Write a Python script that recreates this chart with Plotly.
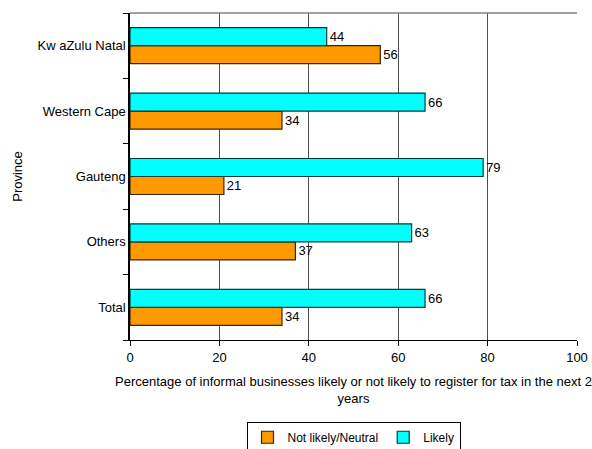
import plotly.graph_objects as go

# Provinces listed bottom-to-top (categorical axis draws the first at the bottom)
provinces = ["Total", "Others", "Gauteng", "Western Cape", "Kw aZulu Natal"]
not_likely = [34, 37, 21, 34, 56]
likely = [66, 63, 79, 66, 44]
x_ticks = [0, 20, 40, 60, 80, 100]

FONT = "Liberation Sans, Arial, sans-serif"

fig = go.Figure()
fig.add_trace(go.Bar(
    y=provinces, x=not_likely, orientation="h", name="Not likely/Neutral",
    marker=dict(color="#FF9900", line=dict(color="#3a2600", width=1.2)),
    text=[str(v) for v in not_likely], textposition="outside",
    textfont=dict(size=13, color="#000000"), cliponaxis=False,
))
fig.add_trace(go.Bar(
    y=provinces, x=likely, orientation="h", name="Likely",
    marker=dict(color="#00FFFF", line=dict(color="#003a3a", width=1.2)),
    text=[str(v) for v in likely], textposition="outside",
    textfont=dict(size=13, color="#000000"), cliponaxis=False,
))

fig.update_layout(
    width=592, height=449,
    margin=dict(l=130, r=15, t=13, b=109, autoexpand=False),
    paper_bgcolor="white", plot_bgcolor="white",
    font=dict(family=FONT, size=13, color="#000000"),
    barmode="group", bargap=0.45, bargroupgap=0,
    showlegend=True,
    legend=dict(
        orientation="h", x=0.5, xanchor="center", y=-0.25, yanchor="top",
        bordercolor="#000000", borderwidth=1, font=dict(size=12),
        tracegroupgap=0, itemwidth=30,
    ),
    xaxis=dict(
        range=[0, 100], tickvals=x_ticks, ticks="outside", ticklen=5,
        tickcolor="#000000", showline=True, linecolor="#000000", linewidth=1,
        showgrid=True, gridcolor="#4d4d4d", gridwidth=1, zeroline=False,
        tickfont=dict(size=13), automargin=False,
        title=dict(
            text="Percentage of informal businesses likely or not likely to register for tax in the next 2<br>years",
            font=dict(size=13), standoff=13,
        ),
    ),
    yaxis=dict(
        categoryorder="array", categoryarray=provinces,
        ticks="outside", tickson="boundaries", ticklen=5, tickcolor="#000000",
        showline=True, linecolor="#000000", linewidth=1.5,
        showgrid=False, tickfont=dict(size=13), automargin=False,
        title=dict(text="Province", font=dict(size=13), standoff=12),
    ),
    shapes=[dict(type="line", xref="paper", yref="paper", x0=0, x1=1, y0=1, y1=1,
                 line=dict(color="#808080", width=1.5))],
)

fig.write_html("out.html")
